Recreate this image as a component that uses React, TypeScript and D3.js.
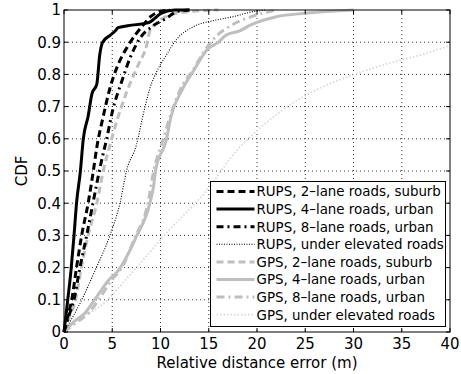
import React, { useEffect, useRef } from 'react';
import * as d3 from 'd3';

// CDF points [error (m), cdf]
const rups2 = [[0,0],[0.4,0.05],[0.8,0.1],[1.3,0.2],[1.83,0.3],[2.5,0.4],[3.04,0.5],[3.38,0.57],[4.07,0.67],[4.76,0.757],[5.6,0.83],[6.66,0.89],[8.2,0.953],[9.0,0.98],[9.9,0.995],[11,1]];
const rups4 = [[0,0],[0.35,0.09],[0.72,0.19],[1.04,0.3],[1.3,0.4],[1.7,0.5],[2.0,0.6],[2.5,0.67],[2.9,0.74],[3.4,0.77],[3.7,0.86],[4.0,0.9],[4.8,0.922],[5.3,0.935],[5.6,0.945],[7.0,0.953],[8.7,0.96],[10.1,0.99],[11.5,1],[13,1]];
const rups8 = [[0,0],[0.5,0.05],[1.03,0.1],[1.65,0.2],[2.35,0.3],[3.0,0.4],[3.73,0.51],[4.42,0.6],[5.1,0.695],[5.97,0.777],[6.83,0.85],[7.87,0.912],[9.2,0.95],[10.6,0.974],[11.7,0.995],[13,1]];
const rupsElev = [[0,0],[0.97,0.05],[2.0,0.11],[3.2,0.19],[4.76,0.3],[5.8,0.4],[6.5,0.503],[7.5,0.58],[8.2,0.674],[8.9,0.757],[9.6,0.808],[10.6,0.86],[11.7,0.91],[13.4,0.948],[15.8,0.969],[17.5,0.979],[19.6,0.995],[21,1]];
const gps2 = [[0,0],[0.6,0.05],[1.2,0.1],[1.8,0.2],[2.5,0.3],[3.4,0.4],[4.07,0.5],[4.76,0.58],[5.45,0.653],[6.5,0.746],[7.7,0.83],[8.56,0.89],[8.9,0.935],[9.8,0.965],[11,0.985],[13,0.995],[16,1]];
const gps4 = [[0,0],[0.95,0.03],[2.2,0.06],[3.4,0.11],[4.6,0.16],[5.6,0.19],[7.5,0.296],[8.9,0.4],[9.3,0.456],[9.5,0.503],[10.6,0.596],[11.1,0.67],[12.2,0.75],[13.6,0.82],[14.8,0.876],[16,0.9],[16.8,0.922],[18.2,0.935],[19.3,0.953],[22,0.979],[25,0.99],[30,1]];
const gps8 = [[0,0],[1.3,0.03],[2.6,0.06],[3.8,0.11],[4.9,0.16],[6,0.2],[7.3,0.29],[8.7,0.4],[9.3,0.5],[10.3,0.6],[11,0.67],[12,0.75],[13.5,0.82],[14.5,0.87],[15.5,0.91],[17.5,0.955],[19.5,0.98],[22,1]];
const gpsElev = [[0,0],[1.3,0.037],[3.7,0.079],[7.2,0.19],[10.6,0.307],[15.1,0.451],[17.5,0.55],[20.3,0.633],[23.4,0.705],[26.5,0.757],[29.9,0.798],[33.7,0.835],[36.9,0.86],[40,0.89]];

const legendLabels = [
  'RUPS, 2\u2013lane roads, suburb',
  'RUPS, 4\u2013lane roads, urban',
  'RUPS, 8\u2013lane roads, urban',
  'RUPS, under elevated roads',
  'GPS, 2\u2013lane roads, suburb',
  'GPS, 4\u2013lane roads, urban',
  'GPS, 8\u2013lane roads, urban',
  'GPS, under elevated roads',
];
const xTicks = [0, 5, 10, 15, 20, 25, 30, 35, 40];
const yTicks = [0, 0.1, 0.2, 0.3, 0.4, 0.5, 0.6, 0.7, 0.8, 0.9, 1];

const GRAY = '#bfbfbf';
const LIGHT = '#d9d9d9';

const App = () => {
  const ref = useRef<SVGSVGElement>(null);

  useEffect(() => {
    const width = 461;
    const height = 374;
    const margin = { top: 10, right: 11, bottom: 42, left: 64 };
    const innerWidth = width - margin.left - margin.right;
    const innerHeight = height - margin.top - margin.bottom;
    const font = '"DejaVu Sans", sans-serif';

    const svg = d3.select(ref.current).attr('width', width).attr('height', height);
    svg.selectAll('*').remove();

    const g = svg.append('g').attr('transform', `translate(${margin.left},${margin.top})`);

    const x = d3.scaleLinear().domain([0, 40]).range([0, innerWidth]);
    const y = d3.scaleLinear().domain([0, 1]).range([innerHeight, 0]);

    // dotted grid
    g.selectAll('.gx').data(xTicks.slice(1, -1)).enter().append('line')
      .attr('x1', d => x(d)).attr('x2', d => x(d))
      .attr('y1', 0).attr('y2', innerHeight)
      .attr('stroke', '#000').attr('stroke-width', 0.8).attr('stroke-dasharray', '1 3');
    g.selectAll('.gy').data(yTicks.slice(1, -1)).enter().append('line')
      .attr('y1', d => y(d)).attr('y2', d => y(d))
      .attr('x1', 0).attr('x2', innerWidth)
      .attr('stroke', '#000').attr('stroke-width', 0.8).attr('stroke-dasharray', '1 3');

    const line = d3.line<number[]>()
      .x(d => x(d[0]))
      .y(d => y(d[1]))
      .curve(d3.curveMonotoneX);

    const series = [
      { data: gpsElev, color: LIGHT, width: 1.8, dash: '1.5 2' },
      { data: gps4, color: GRAY, width: 3, dash: null },
      { data: gps8, color: GRAY, width: 3, dash: '8 4 2 4' },
      { data: gps2, color: GRAY, width: 3, dash: '7 4' },
      { data: rupsElev, color: '#000', width: 1.1, dash: '1 1.5' },
      { data: rups8, color: '#000', width: 3, dash: '7 4 2 4' },
      { data: rups2, color: '#000', width: 3, dash: '7 4' },
      { data: rups4, color: '#000', width: 3, dash: null },
    ];

    g.selectAll('.curve').data(series).enter().append('path')
      .attr('d', d => line(d.data))
      .attr('fill', 'none')
      .attr('stroke', d => d.color)
      .attr('stroke-width', d => d.width)
      .attr('stroke-dasharray', d => d.dash);

    // box
    g.append('rect').attr('width', innerWidth).attr('height', innerHeight)
      .attr('fill', 'none').attr('stroke', '#000').attr('stroke-width', 1);

    // inward ticks on all sides
    const tl = 4;
    xTicks.forEach(t => {
      g.append('line').attr('x1', x(t)).attr('x2', x(t)).attr('y1', innerHeight).attr('y2', innerHeight - tl).attr('stroke', '#000');
      g.append('line').attr('x1', x(t)).attr('x2', x(t)).attr('y1', 0).attr('y2', tl).attr('stroke', '#000');
    });
    yTicks.forEach(t => {
      g.append('line').attr('y1', y(t)).attr('y2', y(t)).attr('x1', 0).attr('x2', tl).attr('stroke', '#000');
      g.append('line').attr('y1', y(t)).attr('y2', y(t)).attr('x1', innerWidth).attr('x2', innerWidth - tl).attr('stroke', '#000');
    });

    g.selectAll('.xl').data(xTicks).enter().append('text')
      .attr('x', d => x(d)).attr('y', innerHeight + 17)
      .attr('text-anchor', 'middle')
      .style('font-family', font).style('font-size', '15px')
      .text(d => d);
    g.selectAll('.yl').data(yTicks).enter().append('text')
      .attr('x', -3).attr('y', d => y(d)).attr('dy', '0.36em')
      .attr('text-anchor', 'end')
      .style('font-family', font).style('font-size', '15px')
      .text(d => d);

    g.append('text')
      .attr('x', innerWidth / 2).attr('y', innerHeight + 36)
      .attr('text-anchor', 'middle')
      .style('font-family', font).style('font-size', '15px')
      .text('Relative distance error (m)');
    g.append('text')
      .attr('transform', `translate(${-37},${innerHeight / 2}) rotate(-90)`)
      .attr('text-anchor', 'middle')
      .style('font-family', font).style('font-size', '15px')
      .text('CDF');

    // legend
    const legendStyle = [
      { color: '#000', width: 3, dash: '7 4' },
      { color: '#000', width: 3, dash: null },
      { color: '#000', width: 3, dash: '7 4 2 4' },
      { color: '#000', width: 1.1, dash: '1 1.5' },
      { color: GRAY, width: 3, dash: '7 4' },
      { color: GRAY, width: 3, dash: null },
      { color: GRAY, width: 3, dash: '8 4 2 4' },
      { color: LIGHT, width: 1.8, dash: '1.5 2' },
    ];
    const legend = svg.append('g').attr('transform', 'translate(210.5,181.5)');
    legend.append('rect').attr('width', 235).attr('height', 145)
      .attr('fill', '#fff').attr('stroke', '#000').attr('stroke-width', 1);
    const items = legend.selectAll('.li').data(legendLabels).enter().append('g')
      .attr('transform', (d, i) => `translate(0,${10 + i * 17.6})`);
    items.append('line')
      .attr('x1', 6).attr('x2', 44).attr('y1', 0).attr('y2', 0)
      .attr('stroke', (d, i) => legendStyle[i].color)
      .attr('stroke-width', (d, i) => legendStyle[i].width)
      .attr('stroke-dasharray', (d, i) => legendStyle[i].dash);
    items.append('text')
      .attr('x', 46).attr('y', 0).attr('dy', '0.36em')
      .style('font-family', font).style('font-size', '13.4px')
      .text(d => d);
  }, []);

  return <svg ref={ref} style={{ position: 'absolute', left: 0, top: 0 }} />;
};

export default App;
